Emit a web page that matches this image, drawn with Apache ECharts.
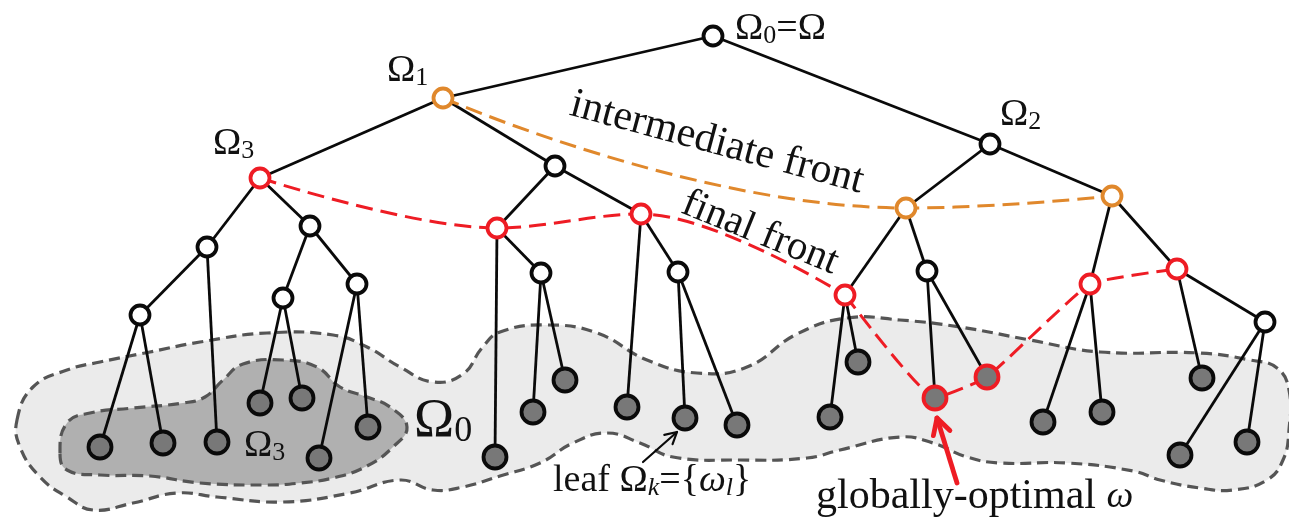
<!DOCTYPE html>
<html><head><meta charset="utf-8">
<script src="https://cdn.jsdelivr.net/npm/echarts@6/dist/echarts.min.js"></script>
<style>html,body{margin:0;padding:0;background:#fff}#c{width:1289px;height:520px}</style>
</head><body><div id="c"></div>
<script>
// ---- tree nodes (0-20 internal, 21-42 leaves) ----
const nodeX = [713,443,990,260,555,906,1112,207,310,497,641,541,678,140,283,357,845,927,1090,1177,1265,
               100,163,217,260,302,319,368,495,533,565,627,685,737,830,858,935,987,1043,1102,1202,1180,1247];
const nodeY = [36,98,144,178,166,208,196,247,226,228,214,273,272,315,298,284,295,271,284,269,322,
               447,443,442,403,398,458,427,457,412,380,407,418,425,417,362,398,377,422,412,378,455,442];
const nodeKind = ['k','o','k','r','k','o','o','k','k','r','r','k','k','k','k','k','r','k','r','r','k',
                  'k','k','k','k','k','k','k','k','k','k','k','k','k','k','k','r','r','k','k','k','k','k'];
const nodeParent = [-1,0,0,1,1,2,2,3,3,4,4,9,10,7,8,8,5,5,6,6,19,
                    13,13,7,14,14,15,15,9,11,11,10,12,12,16,16,17,17,18,18,19,20,20];
const leafStart = 21;
// ---- fronts (node index paths) ----
const intermediateFront = [1,5,6];
const finalFrontA = [3,9,10,16];
const finalFrontB = [16,36,37,18,19];
// ---- regions ----
const outerRegion = [[17,420],[33,387],[67,370],[100,362],[150,352],[200,342],[267,333],[333,335],[367,347],[400,367],[433,382],[463,374],[482,348],[500,332],[547,325],[597,333],[647,360],[697,373],[747,367],[797,334],[847,318],[900,320],[960,327],[1030,340],[1100,352],[1200,353],[1250,360],[1277,368],[1289,390],
  [1289,430],[1283,460],[1267,480],[1233,490],[1200,488],[1160,480],[1133,471],[1067,463],[1000,463],[967,457],[933,443],[900,437],[840,450],[807,458],[740,460],[673,457],[640,443],[607,433],[573,443],[540,463],[500,476],[463,487],[433,490],[400,480],[350,493],[283,502],[217,497],[177,493],[133,503],[93,510],[67,497],[40,477],[20,447]];
const innerRegion = [[60,453],[67,423],[90,413],[133,408],[183,403],[205,397],[223,380],[243,364],[283,360],[317,367],[340,387],[367,397],[390,407],[407,427],[393,447],[367,466],[333,478],[300,483],[267,485],[200,483],[150,476],[100,475],[67,470]];
// ---- arrows [x1,y1,x2,y2] ----
const blackArrow = [643,462,677,432];
const redArrow = [957,483,937,418];
// ---- text labels ----
const labelText = ['{m|Ω}{s|0}{m|=Ω}','{m|Ω}{s|1}','{m|Ω}{s|2}','{m|Ω}{s|3}','intermediate front','final front',
                   '{b|Ω}{bs|0}','{m|Ω}{s|3}','leaf {m|Ω}{si|k}={{mi|ω}{si|l}}','globally-optimal {mi|ω}'];
const labelX = [735,387,1000,213,717,760,414,244,553,816];
const labelY = [29,71,115,144,143,233,422,446,481,497];
const labelRot = [0,0,0,0,-15,-22,0,0,0,0];
const labelSize = [38,38,38,38,42,41,54,38,38,42];
const labelAlign = ['left','left','left','left','center','center','left','left','left','left'];

const F = 'Liberation Serif';
const TXT = '#111111';
const colors = {k:'#0a0a0a', o:'#E0882C', r:'#EE1C24'};

const chart = echarts.init(document.getElementById('c'));
const pt = i => [nodeX[i], nodeY[i]];

const edges = [];
nodeParent.forEach((p,i) => { if (p >= 0) edges.push({coords:[pt(p), pt(i)]}); });

const nodeData = nodeX.map((x,i) => ({
  value:[x,nodeY[i]],
  symbolSize: i < leafStart ? 19 : 23,
  itemStyle:{color: i < leafStart ? '#ffffff' : '#787878', borderColor: colors[nodeKind[i]], borderWidth: 3.8, opacity:1}
}));

const rich = {
  m:{fontFamily:F, fontSize:38, lineHeight:40, color:TXT},
  mi:{fontFamily:F, fontSize:38, lineHeight:40, fontStyle:'italic', color:TXT},
  s:{fontFamily:F, fontSize:26, lineHeight:24, verticalAlign:'bottom', color:TXT},
  si:{fontFamily:F, fontSize:26, lineHeight:24, verticalAlign:'bottom', fontStyle:'italic', color:TXT},
  b:{fontFamily:F, fontSize:54, lineHeight:56, color:TXT},
  bs:{fontFamily:F, fontSize:36, lineHeight:32, verticalAlign:'bottom', color:TXT}
};

const labelData = labelX.map((x,i) => ({
  value:[x,labelY[i]],
  label:{rotate:labelRot[i], fontSize:labelSize[i], align:labelAlign[i], lineHeight: labelSize[i]+2}
}));

function frontSeries(path, color, smooth) {
  return {type:'line', data:path.map(pt), smooth:smooth, showSymbol:false, symbol:'none', z:3,
    lineStyle:{color:color, width:3, type:[17,8], opacity:1}, silent:true};
}

chart.setOption({
  animation:false,
  grid:{left:0,right:0,top:0,bottom:0},
  xAxis:{type:'value', min:0, max:1289, show:false},
  yAxis:{type:'value', min:0, max:520, inverse:true, show:false},
  series:[
    {type:'custom', z:1, silent:true, data:[[0,0],[1,1]],
     renderItem:(params, api) => {
       const inner = params.dataIndex === 1;
       const pts = (inner ? innerRegion : outerRegion).map(p => api.coord(p));
       return {type:'polygon', shape:{points:pts, smooth:0.45},
         style:{fill: inner ? '#b0b0b0' : '#ebebeb', stroke:'#555555', lineWidth:3.2, lineDash:[11,6]}};
     }},
    {type:'lines', coordinateSystem:'cartesian2d', z:2, silent:true, data:edges,
     lineStyle:{color:'#0a0a0a', width:2.8, opacity:1}},
    frontSeries(intermediateFront, '#E0882C', 0.45),
    frontSeries(finalFrontA, '#EE1C24', 0.35),
    frontSeries(finalFrontB, '#EE1C24', 0.12),
    {type:'scatter', z:4, silent:true, symbol:'circle', data:nodeData, itemStyle:{opacity:1}},
    {type:'custom', z:5, silent:true, data:[blackArrow.concat([0]), redArrow.concat([1])],
     renderItem:(params, api) => {
       const a = api.coord([api.value(0), api.value(1)]);
       const b = api.coord([api.value(2), api.value(3)]);
       const red = api.value(4) === 1;
       const col = red ? '#EE1C24' : '#0a0a0a';
       const w = red ? 4.8 : 2.2;
       const L = red ? 18 : 13;
       const ang = Math.atan2(b[1]-a[1], b[0]-a[0]);
       const sp = 0.5;
       const h1 = [b[0]-L*Math.cos(ang-sp), b[1]-L*Math.sin(ang-sp)];
       const h2 = [b[0]-L*Math.cos(ang+sp), b[1]-L*Math.sin(ang+sp)];
       const st = {stroke:col, lineWidth:w, fill:null, lineCap:'round', lineJoin:'round'};
       return {type:'group', children:[
         {type:'line', shape:{x1:a[0],y1:a[1],x2:b[0],y2:b[1]}, style:st},
         {type:'polyline', shape:{points:[h1,b,h2]}, style:st}
       ]};
     }},
    {type:'scatter', z:6, silent:true, symbolSize:0, data:labelData, itemStyle:{opacity:1},
     label:{show:true, position:'inside', verticalAlign:'middle', fontFamily:F, color:TXT,
            textBorderWidth:0, textBorderColor:'transparent', opacity:1,
            formatter:p => labelText[p.dataIndex], rich:rich}}
  ]
});
</script></body></html>
